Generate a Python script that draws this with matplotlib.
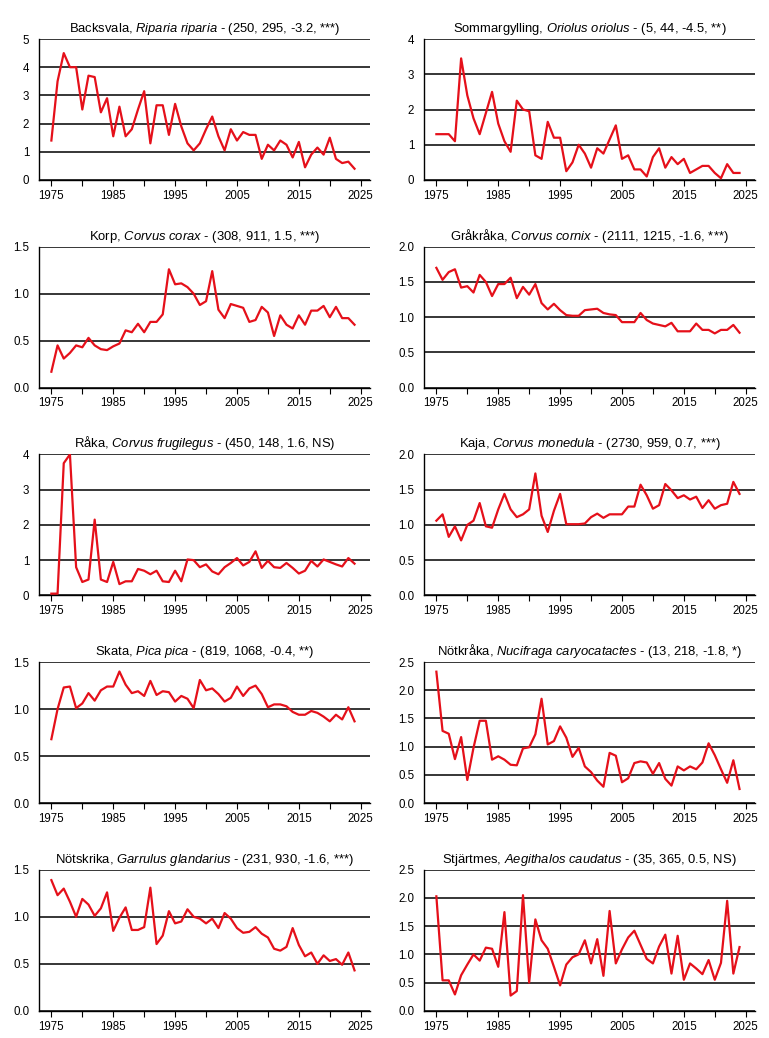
import matplotlib
matplotlib.use('Agg')
import matplotlib.pyplot as plt
from matplotlib.ticker import MultipleLocator, FormatStrFormatter

plt.rcParams['font.family'] = ['Liberation Sans', 'DejaVu Sans']
plt.rcParams['mathtext.fontset'] = 'custom'
plt.rcParams['mathtext.rm'] = 'Liberation Sans'
plt.rcParams['mathtext.it'] = 'Liberation Sans:italic'

years = list(range(1975, 2025))

backsvala = [1.4, 3.5, 4.5, 4.0, 4.0, 2.5, 3.7, 3.65, 2.4, 2.9,
             1.55, 2.6, 1.55, 1.8, 2.5, 3.15, 1.3, 2.65, 2.65, 1.6,
             2.7, 1.9, 1.3, 1.05, 1.3, 1.8, 2.25, 1.55, 1.05, 1.8,
             1.4, 1.7, 1.6, 1.6, 0.75, 1.25, 1.05, 1.4, 1.25, 0.8,
             1.35, 0.45, 0.9, 1.15, 0.9, 1.5, 0.75, 0.6, 0.65, 0.4]
sommargylling = [1.3, 1.3, 1.3, 1.1, 3.45, 2.4, 1.75, 1.3, 1.9, 2.5,
                 1.6, 1.1, 0.8, 2.25, 2.0, 1.95, 0.7, 0.6, 1.65, 1.2,
                 1.2, 0.25, 0.5, 1.0, 0.75, 0.35, 0.9, 0.75, 1.15, 1.55,
                 0.6, 0.7, 0.3, 0.3, 0.1, 0.65, 0.9, 0.35, 0.65, 0.45,
                 0.6, 0.2, 0.3, 0.4, 0.4, 0.2, 0.05, 0.45, 0.2, 0.2]
korp = [0.17, 0.45, 0.31, 0.37, 0.45, 0.43, 0.53, 0.45, 0.41, 0.40,
        0.44, 0.47, 0.61, 0.59, 0.68, 0.59, 0.70, 0.70, 0.78, 1.26,
        1.10, 1.11, 1.07, 1.00, 0.88, 0.92, 1.24, 0.83, 0.74, 0.89,
        0.87, 0.85, 0.70, 0.72, 0.86, 0.80, 0.55, 0.77, 0.67, 0.63,
        0.77, 0.67, 0.82, 0.82, 0.87, 0.75, 0.86, 0.74, 0.74, 0.67]
grakraka = [1.70, 1.53, 1.64, 1.68, 1.42, 1.44, 1.35, 1.60, 1.50, 1.30,
            1.47, 1.47, 1.56, 1.27, 1.43, 1.32, 1.47, 1.20, 1.11, 1.19,
            1.10, 1.03, 1.02, 1.02, 1.10, 1.11, 1.12, 1.06, 1.04, 1.03,
            0.93, 0.93, 0.93, 1.06, 0.96, 0.91, 0.89, 0.87, 0.92, 0.80,
            0.80, 0.80, 0.91, 0.82, 0.82, 0.77, 0.82, 0.82, 0.89, 0.78]
raka = [0.05, 0.05, 3.75, 4.0, 0.8, 0.38, 0.45, 2.15, 0.45, 0.38,
        0.95, 0.32, 0.40, 0.40, 0.75, 0.70, 0.60, 0.70, 0.40, 0.38,
        0.70, 0.40, 1.02, 1.00, 0.80, 0.88, 0.68, 0.60, 0.80, 0.92,
        1.06, 0.85, 0.95, 1.25, 0.78, 0.98, 0.80, 0.78, 0.92, 0.78,
        0.62, 0.70, 0.98, 0.82, 1.02, 0.95, 0.88, 0.82, 1.06, 0.90]
kaja = [1.06, 1.15, 0.83, 0.98, 0.78, 1.00, 1.06, 1.31, 0.98, 0.96,
        1.22, 1.44, 1.22, 1.11, 1.15, 1.22, 1.73, 1.13, 0.90, 1.20,
        1.44, 1.01, 1.01, 1.01, 1.02, 1.11, 1.16, 1.10, 1.15, 1.15,
        1.15, 1.26, 1.26, 1.57, 1.42, 1.23, 1.28, 1.58, 1.49, 1.38,
        1.42, 1.36, 1.40, 1.24, 1.35, 1.23, 1.28, 1.30, 1.61, 1.44]
skata = [0.68, 1.00, 1.23, 1.24, 1.01, 1.06, 1.17, 1.09, 1.20, 1.24,
         1.24, 1.40, 1.26, 1.17, 1.19, 1.14, 1.30, 1.15, 1.19, 1.18,
         1.08, 1.14, 1.11, 1.01, 1.31, 1.20, 1.22, 1.16, 1.08, 1.12,
         1.24, 1.14, 1.22, 1.25, 1.16, 1.02, 1.05, 1.05, 1.03, 0.97,
         0.94, 0.94, 0.98, 0.96, 0.92, 0.87, 0.94, 0.89, 1.02, 0.87]
notkraka = [2.33, 1.28, 1.23, 0.78, 1.17, 0.41, 0.98, 1.46, 1.46, 0.77,
            0.83, 0.77, 0.68, 0.67, 0.97, 0.99, 1.22, 1.85, 1.04, 1.10,
            1.36, 1.16, 0.82, 0.98, 0.65, 0.55, 0.40, 0.29, 0.89, 0.84,
            0.37, 0.44, 0.71, 0.74, 0.72, 0.52, 0.71, 0.43, 0.31, 0.65,
            0.58, 0.65, 0.60, 0.72, 1.06, 0.85, 0.60, 0.36, 0.76, 0.25]
notskrika = [1.39, 1.23, 1.30, 1.16, 1.00, 1.19, 1.13, 1.01, 1.09, 1.26,
             0.85, 0.99, 1.10, 0.86, 0.86, 0.89, 1.31, 0.71, 0.80, 1.06,
             0.93, 0.95, 1.08, 1.00, 0.98, 0.93, 0.98, 0.88, 1.04, 0.98,
             0.88, 0.83, 0.84, 0.89, 0.82, 0.78, 0.66, 0.64, 0.68, 0.88,
             0.70, 0.58, 0.62, 0.50, 0.59, 0.53, 0.55, 0.49, 0.62, 0.43]
stjartmes = [2.03, 0.54, 0.54, 0.29, 0.63, 0.82, 1.00, 0.89, 1.12, 1.10,
             0.78, 1.75, 0.27, 0.35, 2.05, 0.50, 1.62, 1.25, 1.10, 0.78,
             0.45, 0.82, 0.95, 1.00, 1.25, 0.84, 1.27, 0.62, 1.77, 0.84,
             1.09, 1.30, 1.42, 1.17, 0.92, 0.84, 1.14, 1.35, 0.66, 1.33,
             0.55, 0.84, 0.75, 0.65, 0.90, 0.55, 0.85, 1.95, 0.66, 1.13]

# (svenskt namn, latinskt namn, statistik, data, ymax, ysteg)
panels = [
    ('Backsvala', 'Riparia riparia', '(250, 295, -3.2, ***)', backsvala, 5, 1),
    ('Sommargylling', 'Oriolus oriolus', '(5, 44, -4.5, **)', sommargylling, 4, 1),
    ('Korp', 'Corvus corax', '(308, 911, 1.5, ***)', korp, 1.5, 0.5),
    ('Gråkråka', 'Corvus cornix', '(2111, 1215, -1.6, ***)', grakraka, 2.0, 0.5),
    ('Råka', 'Corvus frugilegus', '(450, 148, 1.6, NS)', raka, 4, 1),
    ('Kaja', 'Corvus monedula', '(2730, 959, 0.7, ***)', kaja, 2.0, 0.5),
    ('Skata', 'Pica pica', '(819, 1068, -0.4, **)', skata, 1.5, 0.5),
    ('Nötkråka', 'Nucifraga caryocatactes', '(13, 218, -1.8, *)', notkraka, 2.5, 0.5),
    ('Nötskrika', 'Garrulus glandarius', '(231, 930, -1.6, ***)', notskrika, 1.5, 0.5),
    ('Stjärtmes', 'Aegithalos caudatus', '(35, 365, 0.5, NS)', stjartmes, 2.5, 0.5),
]

W, H = 769, 1038
fig = plt.figure(figsize=(W / 100, H / 100), dpi=100)

for i, (sv, lat, stats, vals, ymax, step) in enumerate(panels):
    row, col = divmod(i, 2)
    left = 39 if col == 0 else 424
    top = 39 + row * 207.7
    ax = fig.add_axes([left / W, 1 - (top + 141) / H, 331 / W, 141 / H])

    ax.plot(years, vals, color='#e5101a', lw=1.6, zorder=3)

    ax.set_xlim(1973, 2026.5)
    ax.set_ylim(0, ymax)
    ax.yaxis.set_major_locator(MultipleLocator(step))
    if step < 1:
        ax.yaxis.set_major_formatter(FormatStrFormatter('%.1f'))
    ax.set_xticks(range(1975, 2026, 10))
    ax.set_xticks(range(1980, 2025, 10), minor=True)
    ax.tick_params(axis='x', which='both', length=4, width=0.8, labelsize=8.3, pad=3)
    ax.tick_params(axis='y', length=0, labelsize=8.3, pad=7)

    ax.grid(axis='y', color='black', lw=1.1)
    ax.set_axisbelow(True)
    for s in ['top', 'right']:
        ax.spines[s].set_visible(False)
    for s in ['left', 'bottom']:
        ax.spines[s].set_linewidth(1.0)

    lat_tex = lat.replace(' ', r'\ ')
    ax.set_title(sv + ', $\\it{' + lat_tex + '}$ - ' + stats, fontsize=9.4, pad=5)

plt.savefig('out.png', dpi=100)
